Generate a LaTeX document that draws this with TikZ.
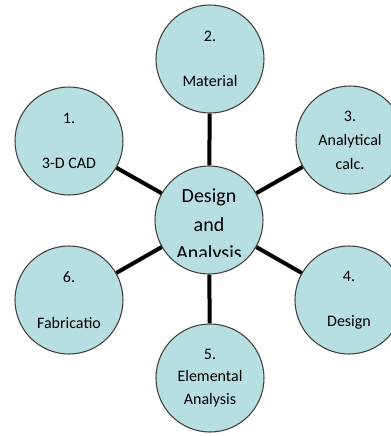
\documentclass[tikz,border=0pt]{standalone}
\usepackage{fontspec}
\setmainfont{Carlito}
\usepackage{xcolor}
\usepackage{tikz}
\usetikzlibrary{positioning}

\definecolor{bubblefill}{HTML}{B7DEE0}
\definecolor{bubbleline}{HTML}{404040}

\tikzset{
    bubble/.style={circle, draw=bubbleline, fill=bubblefill, line width=0.8pt,
        minimum size=81pt, inner sep=0pt, align=center,
        font=\fontsize{12}{17}\selectfont},
    hubtext/.style={align=center, inner sep=0pt, font=\fontsize{15}{21.4}\selectfont},
    spoke/.style={line width=3pt, black}
}

\begin{document}
\begin{tikzpicture}[x=0.75pt, y=-0.75pt]
    \useasboundingbox (0, 0) rectangle (391, 436);

    % Hub
    \node [bubble] (hub) at (209, 220) {};
    \begin{scope}
        \clip (150, 170) rectangle (270, 256);
        \node [hubtext] (hublabel) at (209, 226) {Design\\and\\Analysis};
    \end{scope}

    % Steps
    \node [bubble] (cad) at (69, 141) {1.\\[17pt]3-D CAD};
    \node [bubble] (material) at (210, 59) {2.\\[17pt]Material};
    \node [bubble] (calc) at (350, 140) {3.\\[1pt]Analytical\\[1pt]calc.};
    \node [bubble] (design) at (349, 300) {4.\\[17pt]Design};
    \node [bubble] (fem) at (210, 378) {5.\\Elemental\\Analysis};
    \node [bubble] (fab) at (69, 300) {6.\\[17pt]Fabricatio};

    % Spokes
    \foreach \step in {cad, material, calc, design, fem, fab}
        \draw [spoke] (hub) -- (\step);
\end{tikzpicture}
\end{document}
